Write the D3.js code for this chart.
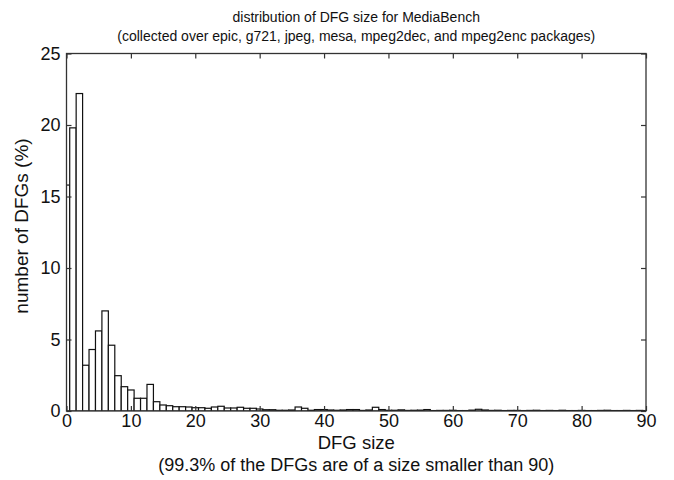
<!DOCTYPE html>
<html><head><meta charset="utf-8">
<script src="https://cdn.jsdelivr.net/npm/d3@7"></script>
<style>body{margin:0;background:#fff}svg{display:block}text{font-family:"Liberation Sans",Arial,sans-serif;fill:#111}</style>
</head><body>
<script>
const binCenters = d3.range(0, 91);
const percents = [15.8,19.8,22.2,3.2,4.3,5.6,7.0,4.6,2.47,1.7,
  1.47,0.89,0.89,1.86,0.65,0.42,0.37,0.30,0.30,0.28,
  0.23,0.23,0.19,0.28,0.33,0.21,0.21,0.26,0.19,0.19,
  0.14,0.09,0.09,0.05,0.05,0.07,0.28,0.19,0.05,0.10,
  0.10,0.07,0.05,0.07,0.10,0.10,0.04,0.07,0.26,0.10,
  0.05,0.05,0.08,0.04,0.05,0.06,0.10,0.03,0.04,0.04,
  0.05,0.03,0.03,0.06,0.12,0.07,0.04,0.05,0.03,0.04,
  0.04,0.03,0.04,0.05,0.03,0.04,0.03,0.05,0.03,0.03,
  0.04,0.03,0.03,0.04,0.05,0.03,0.03,0.04,0.03,0.04,0.03];
const xTicks = [0,10,20,30,40,50,60,70,80,90];
const yTicks = [0,5,10,15,20,25];
const titleLines = ["distribution of DFG size for MediaBench",
  "(collected over epic, g721, jpeg, mesa, mpeg2dec, and mpeg2enc packages)"];
const xLabelLines = ["DFG size", "(99.3% of the DFGs are of a size smaller than 90)"];
const yLabel = "number of DFGs (%)";

const W = 674, H = 480;
const L = 66.5, R = 646, T = 53.5, B = 411;
const svg = d3.select("body").append("svg").attr("width", W).attr("height", H);
const x = d3.scaleLinear().domain([0, 90]).range([L, R]);
const y = d3.scaleLinear().domain([0, 25]).range([B, T]);

svg.append("clipPath").attr("id","clip").append("rect")
  .attr("x", L).attr("y", T).attr("width", R - L).attr("height", B - T);

const data = binCenters.map((c, i) => ({c, v: percents[i]}));
svg.append("g").attr("clip-path","url(#clip)").selectAll("rect").data(data).join("rect")
  .attr("x", d => x(d.c - 0.5)).attr("width", d => x(d.c + 0.5) - x(d.c - 0.5))
  .attr("y", d => y(d.v)).attr("height", d => y(0) - y(d.v))
  .attr("fill", "#fff").attr("stroke", "#111").attr("stroke-width", 1.2);

// frame
svg.append("rect").attr("x", L).attr("y", T).attr("width", R - L).attr("height", B - T)
  .attr("fill", "none").attr("stroke", "#333").attr("stroke-width", 1.3);

const tl = 5;
const xb = svg.append("g").attr("transform", `translate(0,${B})`)
  .call(d3.axisBottom(x).tickValues(xTicks).tickSize(-tl).tickPadding(3).tickFormat(d3.format("d")));
const xt = svg.append("g").attr("transform", `translate(0,${T})`)
  .call(d3.axisTop(x).tickValues(xTicks).tickSize(-tl).tickFormat(""));
const yl = svg.append("g").attr("transform", `translate(${L},0)`)
  .call(d3.axisLeft(y).tickValues(yTicks).tickSize(-tl).tickPadding(6).tickFormat(d3.format("d")));
const yr = svg.append("g").attr("transform", `translate(${R},0)`)
  .call(d3.axisRight(y).tickValues(yTicks).tickSize(-tl).tickFormat(""));
[xb, xt, yl, yr].forEach(g => {
  g.select(".domain").remove();
  g.selectAll("line").attr("stroke", "#333").attr("stroke-width", 1.2);
  g.selectAll("text").style("font-size", "18px").attr("fill", "#111")
    .style("font-family", '"Liberation Sans",Arial,sans-serif');
});

const cx = (L + R) / 2;
svg.append("text").attr("x", cx).attr("y", 22).attr("text-anchor", "middle")
  .style("font-size", "14px").text(titleLines[0]);
svg.append("text").attr("x", cx).attr("y", 41).attr("text-anchor", "middle")
  .style("font-size", "14px").text(titleLines[1]);
svg.append("text").attr("x", cx).attr("y", 449).attr("text-anchor", "middle")
  .style("font-size", "18.5px").text(xLabelLines[0]);
svg.append("text").attr("x", cx).attr("y", 471).attr("text-anchor", "middle")
  .style("font-size", "18px").text(xLabelLines[1]);
svg.append("text").attr("transform", `translate(28,226) rotate(-90)`)
  .attr("text-anchor", "middle").style("font-size", "19px").text(yLabel);
</script>
</body></html>
